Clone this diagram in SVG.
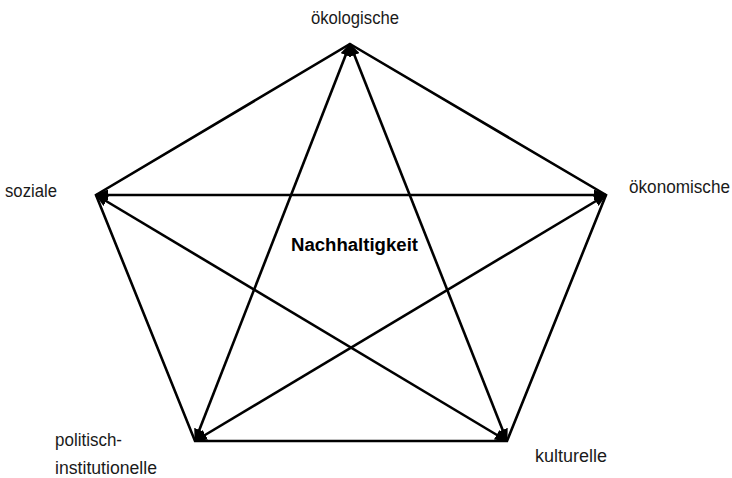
<svg xmlns="http://www.w3.org/2000/svg" width="732" height="478" viewBox="0 0 732 478">
<defs>
<marker id="ah" viewBox="0 0 13 11" refX="12" refY="5.5" markerWidth="13" markerHeight="11" markerUnits="userSpaceOnUse" orient="auto-start-reverse">
<path d="M0,0 L13,5.5 L0,11 Z" fill="#000"/>
</marker>
<style>
.edge{stroke:#000;stroke-width:2.6;fill:none;stroke-linejoin:miter}
.diag{stroke:#000;stroke-width:2.6;fill:none;marker-start:url(#ah);marker-end:url(#ah)}
.lbl{font-family:"Liberation Sans Narrow","Liberation Sans",Arial,sans-serif;font-size:17.5px;fill:#1a1a1a}
.ctr{font-family:"Liberation Sans Narrow","Liberation Sans",Arial,sans-serif;font-size:17.5px;font-weight:bold;fill:#000}
</style>
</defs>
<rect width="732" height="478" fill="#fff"/>
<g id="connectors">
<polygon class="edge" points="350,44 606,195 507,441 195,441 96,195"/>
<line class="diag" x1="350" y1="44" x2="195" y2="441"/>
<line class="diag" x1="350" y1="44" x2="507" y2="441"/>
<line class="diag" x1="96" y1="195" x2="606" y2="195"/>
<line class="diag" x1="96" y1="195" x2="507" y2="441"/>
<line class="diag" x1="606" y1="195" x2="195" y2="441"/>
</g>
<g id="node-oekologische"><text class="lbl" x="311" y="24" textLength="88" lengthAdjust="spacingAndGlyphs">ökologische</text></g>
<g id="node-soziale"><text class="lbl" x="5" y="197" textLength="52" lengthAdjust="spacingAndGlyphs">soziale</text></g>
<g id="node-oekonomische"><text class="lbl" x="629" y="193" textLength="101" lengthAdjust="spacingAndGlyphs">ökonomische</text></g>
<g id="node-politisch"><text class="lbl" x="55" y="446" textLength="67" lengthAdjust="spacingAndGlyphs">politisch-</text><text class="lbl" x="55" y="474" textLength="102" lengthAdjust="spacingAndGlyphs">institutionelle</text></g>
<g id="node-kulturelle"><text class="lbl" x="535" y="462" textLength="72" lengthAdjust="spacingAndGlyphs">kulturelle</text></g>
<g id="node-center"><text class="ctr" x="291" y="251" textLength="127" lengthAdjust="spacingAndGlyphs">Nachhaltigkeit</text></g>
</svg>
